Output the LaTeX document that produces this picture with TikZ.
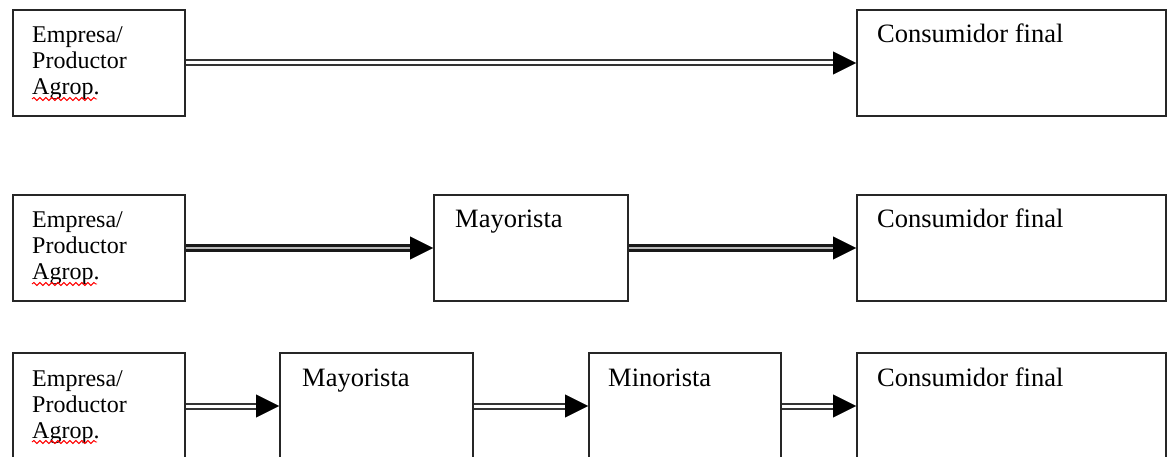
\documentclass[tikz,border=0pt]{standalone}
\usepackage{fontspec}
\setmainfont{Liberation Serif}
\usetikzlibrary{arrows.meta,decorations.pathmorphing}
\begin{document}
\begin{tikzpicture}[x=1pt,y=-1pt,
  box/.style={draw=black!85, line width=2pt, rectangle, inner sep=0pt, anchor=north west, minimum height=106pt},
  lbl/.style={inner sep=0pt, anchor=base west, font=\fontsize{26.5}{29}\selectfont},
  srclbl/.style={inner sep=0pt, anchor=base west, font=\fontsize{24}{26}\selectfont},
  shaft/.style={draw=black!80, double=white, line width=2pt, double distance=3pt, shorten >=20pt},
  thickshaft/.style={draw=black!90, double=gray!55, line width=2.4pt, double distance=2.5pt, shorten >=20pt},
  tiphead/.style={-{Triangle[length=23pt,width=23pt]}, line width=0.4pt, draw=black, fill=black},
  squig/.style={draw=red, line width=0.9pt, decorate, decoration={snake, amplitude=1.5pt, segment length=6pt}}]
\useasboundingbox (0,0) rectangle (1168,457);

% ---------- Row 1 ----------
\node[box, minimum width=172pt] (e1) at (12,9) {};
\node[box, minimum width=309pt] (c1) at (856,9) {};
\node[srclbl] (e1t) at ([shift={(20,34)}]e1.north west) {\vtop{\hbox{Empresa/}\hbox{Productor}\hbox{Agrop.}}};
\node[lbl] (c1t) at ([shift={(21,34)}]c1.north west) {Consumidor final};
\draw[squig] ([shift={(20,90)}]e1.north west) -- ([shift={(85,90)}]e1.north west);
\draw[shaft] (e1.east) -- (c1.west);
\draw[tiphead] ([xshift=-23pt]c1.west) -- (c1.west);

% ---------- Row 2 ----------
\node[box, minimum width=172pt] (e2) at (12,194) {};
\node[box, minimum width=194pt] (m2) at (433,194) {};
\node[box, minimum width=309pt] (c2) at (856,194) {};
\node[srclbl] (e2t) at ([shift={(20,34)}]e2.north west) {\vtop{\hbox{Empresa/}\hbox{Productor}\hbox{Agrop.}}};
\node[lbl] (m2t) at ([shift={(22,34)}]m2.north west) {Mayorista};
\node[lbl] (c2t) at ([shift={(21,34)}]c2.north west) {Consumidor final};
\draw[squig] ([shift={(20,90)}]e2.north west) -- ([shift={(85,90)}]e2.north west);
\draw[thickshaft] (e2.east) -- (m2.west);
\draw[tiphead] ([xshift=-23pt]m2.west) -- (m2.west);
\draw[thickshaft] (m2.east) -- (c2.west);
\draw[tiphead] ([xshift=-23pt]c2.west) -- (c2.west);

% ---------- Row 3 ----------
\node[box, minimum width=172pt] (e3) at (12,352) {};
\node[box, minimum width=193pt] (m3) at (279,352) {};
\node[box, minimum width=192pt] (n3) at (588,352) {};
\node[box, minimum width=309pt] (c3) at (856,352) {};
\node[srclbl] (e3t) at ([shift={(20,34)}]e3.north west) {\vtop{\hbox{Empresa/}\hbox{Productor}\hbox{Agrop.}}};
\node[lbl] (m3t) at ([shift={(23,34)}]m3.north west) {Mayorista};
\node[lbl] (n3t) at ([shift={(20,34)}]n3.north west) {Minorista};
\node[lbl] (c3t) at ([shift={(21,34)}]c3.north west) {Consumidor final};
\draw[squig] ([shift={(20,90)}]e3.north west) -- ([shift={(85,90)}]e3.north west);
\draw[shaft] (e3.east) -- (m3.west);
\draw[tiphead] ([xshift=-23pt]m3.west) -- (m3.west);
\draw[shaft] (m3.east) -- (n3.west);
\draw[tiphead] ([xshift=-23pt]n3.west) -- (n3.west);
\draw[shaft] (n3.east) -- (c3.west);
\draw[tiphead] ([xshift=-23pt]c3.west) -- (c3.west);
\end{tikzpicture}
\end{document}
